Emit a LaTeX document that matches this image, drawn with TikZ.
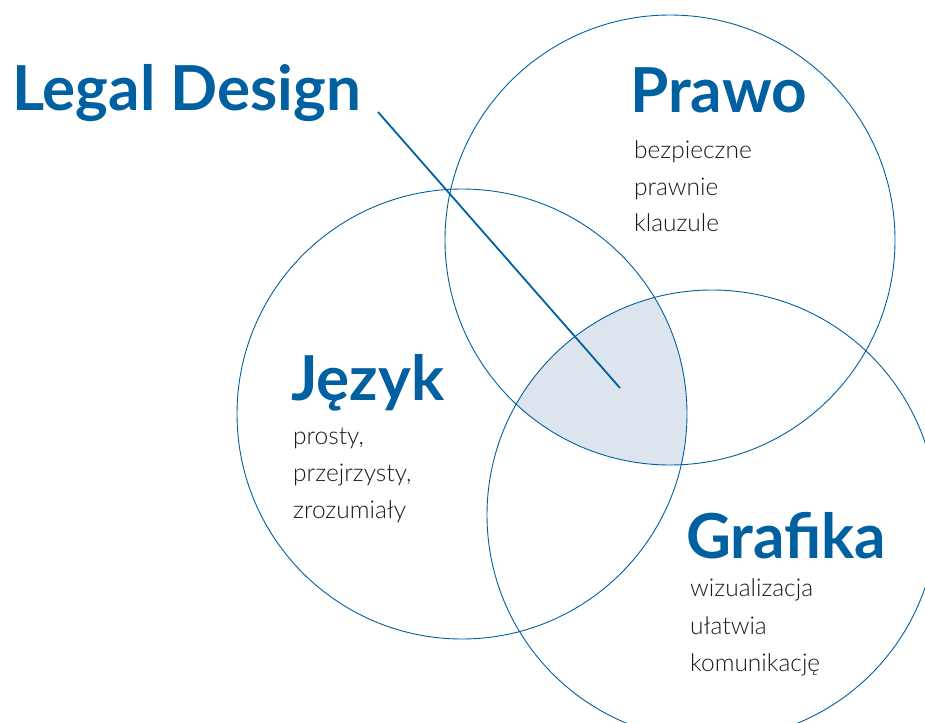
\documentclass[tikz,border=0pt]{standalone}
\usepackage{fontspec}
\setmainfont{Lato}
\newfontfamily\lightfont{Lato Light}
\usepackage{xcolor}
\definecolor{ldblue}{RGB}{0,96,160}
\definecolor{ldfill}{RGB}{220,228,238}
\definecolor{ldtext}{RGB}{25,25,25}

\begin{document}
\begin{tikzpicture}[x=1pt,y=-1pt,
  heading/.style={anchor=base west,inner sep=0,text=ldblue,font=\fontsize{62}{62}\selectfont\bfseries},
  body/.style={anchor=base west,inner sep=0,text=ldtext,font=\fontsize{24.5}{25}\selectfont\lightfont},
  ring/.style={draw=ldblue,line width=0.9pt}]
\useasboundingbox (0,0) rectangle (925,722);
\clip (0,0) rectangle (925,722);
\begin{scope}
\clip (670,240) circle (225);
\clip (462,414) circle (225);
\fill[ldfill] (712,515) circle (225);
\end{scope}
\draw[ring] (670,240) circle (225);
\draw[ring] (462,414) circle (225);
\draw[ring] (712,515) circle (225);
\node[heading] (legal) at (12,111) {Legal Design};
\node[heading] (prawo) at (630,113) {Prawo};
\node[heading] (jezyk) at (291,400) {Język};
\node[heading] (grafika) at (686,558) {Grafika};
\foreach \t [count=\i] in {bezpieczne,prawnie,klauzule}
  \node[body] (prawo\i) at (634,122+36.5*\i) {\t};
\foreach \t [count=\i] in {{prosty,},{przejrzysty,},zrozumiały}
  \node[body] (jezyk\i) at (293,407+37*\i) {\t};
\foreach \t [count=\i] in {wizualizacja,ułatwia,komunikację}
  \node[body] (grafika\i) at (690,559+37.5*\i) {\t};
\coordinate (start) at (378,112);
\coordinate (wskaz) at (620,388);
\draw[ldblue,line width=1.8pt] (start) -- (wskaz);
\end{tikzpicture}
\end{document}
